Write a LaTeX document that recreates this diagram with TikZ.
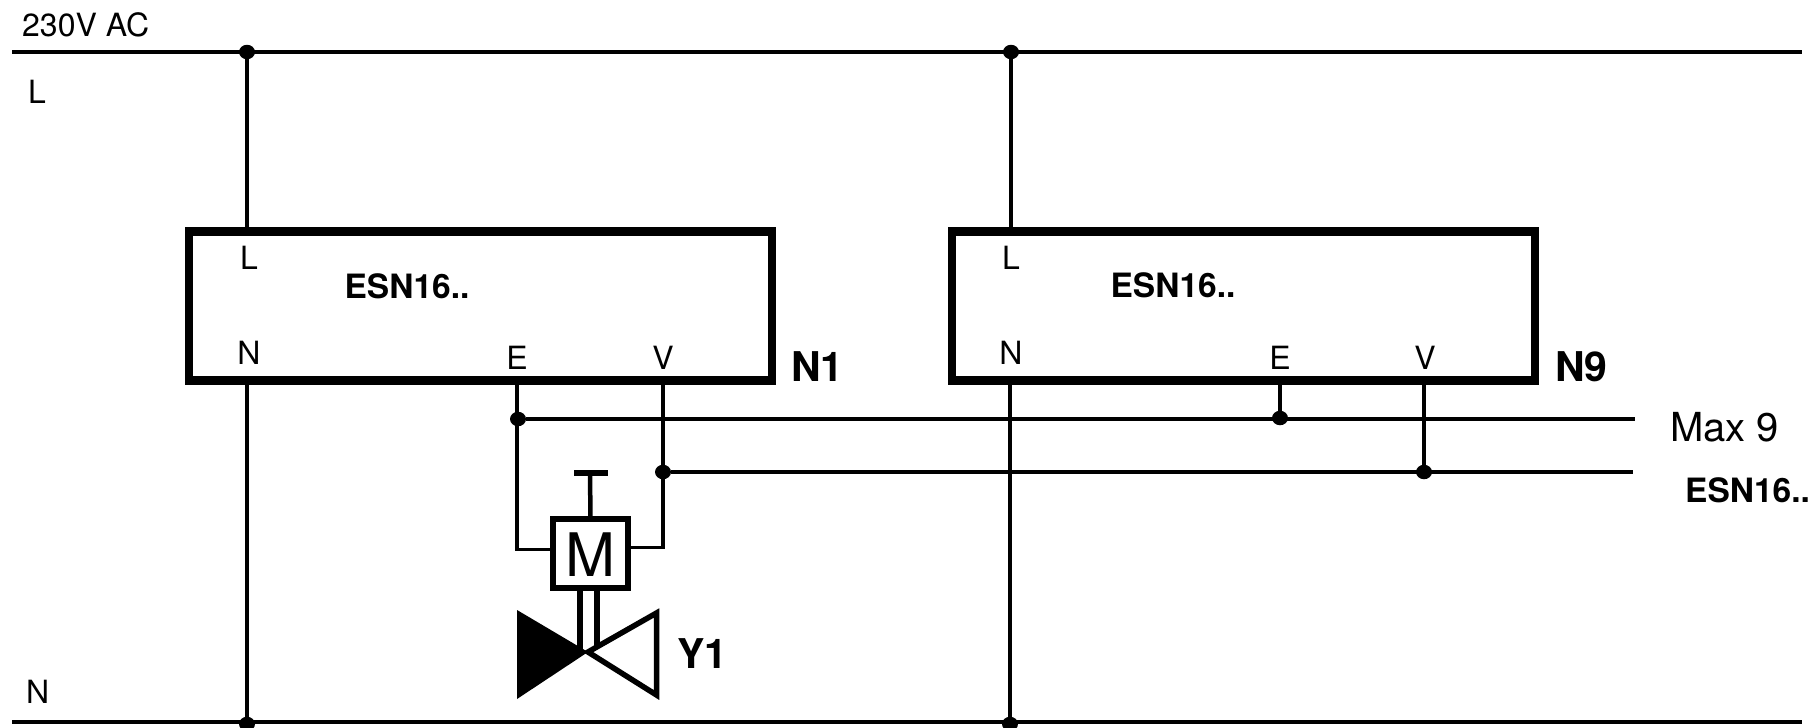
\documentclass[tikz,border=0pt]{standalone}
\usepackage{fontspec}
\setmainfont{TeX Gyre Heros}
\usetikzlibrary{calc,shapes.geometric}
\tikzset{
  x=1pt,y=-1pt,
  wire/.style={line width=3.2pt,line cap=butt},
  modbox/.style={draw,line width=8.5pt,rectangle,outer sep=0pt,minimum width=583pt,minimum height=149pt,inner sep=0pt},
  dotj/.style={ellipse,fill=black,inner sep=0pt,minimum width=16pt,minimum height=14.5pt},
  lab/.style={font=\fontsize{32}{36}\selectfont,inner sep=0pt,anchor=base},
  labl/.style={lab,anchor=base west},
  blab/.style={font=\fontsize{33.5}{38}\selectfont\bfseries,inner sep=0pt,anchor=base},
  blabb/.style={font=\fontsize{41}{46}\selectfont\bfseries,inner sep=0pt,anchor=base west},
  thick5/.style={line width=5.5pt},
}
\begin{document}
\begin{tikzpicture}
\useasboundingbox (0,0) rectangle (1813,728);
\fill[white] (0,0) rectangle (1813,728);
% rail ends
\coordinate (La) at (12,52); \coordinate (Lb) at (1802,52);
\coordinate (Na) at (12,722); \coordinate (Nb) at (1802,722);
\coordinate (Ea) at (1635,419); \coordinate (Va) at (1633,472);
% modules
\node[modbox] (b1) at (480.5,306) {};
\node[modbox] (b2) at (1243.5,306) {};
% junctions
\node[dotj] (jL1) at (247,52) {};
\node[dotj] (jL2) at (1011,52) {};
\node[dotj] (jN1) at (247,724) {};
\node[dotj] (jN2) at (1010,724) {};
\node[dotj] (jE1) at (518,419) {};
\node[dotj] (jE2) at (1280,418) {};
\node[dotj] (jV1) at (663,472) {};
\node[dotj] (jV2) at (1424,472) {};
% motor
\node[draw,line width=5.5pt,rectangle,outer sep=0pt,minimum width=75pt,minimum height=69pt,inner sep=0pt] (M) at (590.5,553.5) {};
\node[inner sep=0pt,anchor=base,font=\fontsize{60}{66}\selectfont] (Mt) at (590.5,576) {M};
\coordinate (T) at (590,473);
\coordinate (Ta) at (574,473); \coordinate (Tb) at (608,473);
\coordinate (Mw) at (553,549.5); \coordinate (Me) at (628,547.5);
\coordinate (Ed) at (517,419);
% valve
\coordinate (Vc) at (588,652);
% wires
\draw[wire] (La) -- (Lb);
\draw[wire] (Na) -- (Nb);
\draw[wire] (jL1) -- (jL1 |- b1.north);
\draw[wire] (jL2) -- (jL2 |- b2.north);
\draw[wire] (jN1 |- b1.south) -- (jN1);
\draw[wire] (jN2 |- b2.south) -- (jN2);
\draw[wire] (Ed |- b1.south) -- (Ed);
\draw[wire] (jE1) -- (Ea);
\draw[wire] (jE2 |- b2.south) -- (jE2);
\draw[wire] (jV1 |- b1.south) -- (jV1);
\draw[wire] (jV1) -- (Va);
\draw[wire] (jV2 |- b2.south) -- (jV2);
\draw[wire,line join=miter] (Ed) |- (Mw);
\draw[wire,line join=miter] (jV1) |- (Me);
\draw[line width=4.5pt] (M.north) -- (T);
\draw[line width=6pt] (Ta) -- (Tb);
\draw[line width=6pt] (579.5,590) -- (579.5,652);
\draw[line width=6pt] (597,590) -- (597,647);
\fill (517,610) -- (Vc) -- (517,699) -- cycle;
\draw[thick5,line join=miter] (Vc) -- (656.5,613) -- (656.5,695) -- cycle;
% labels
\node[labl] (t230) at (22,36) {230V AC};
\node[labl] (tL) at (28,103) {L};
\node[labl] (tN) at (26,703) {N};
\node[lab] (l1) at (249,269) {L};
\node[lab] (n1) at (249,364) {N};
\node[lab] (e1) at (517,369) {E};
\node[lab] (v1) at (663,369) {V};
\node[lab] (l2) at (1011,269) {L};
\node[lab] (n2) at (1011,364) {N};
\node[lab] (e2) at (1280,369) {E};
\node[lab] (v2) at (1425,369) {V};
\node[blab] (t1) at (407,298) {ESN16..};
\node[blab] (t2) at (1173,297) {ESN16..};
\node[blab,anchor=base west] (t3) at (1685,502) {ESN16..};
\node[blabb] (N1) at (791,381) {N1};
\node[blabb] (N9) at (1555,381) {N9};
\node[blabb] (Y1) at (677,668) {Y1};
\node[inner sep=0pt,anchor=base west,font=\fontsize{40}{45}\selectfont] (mx) at (1670,441) {Max 9};
\end{tikzpicture}
\end{document}
